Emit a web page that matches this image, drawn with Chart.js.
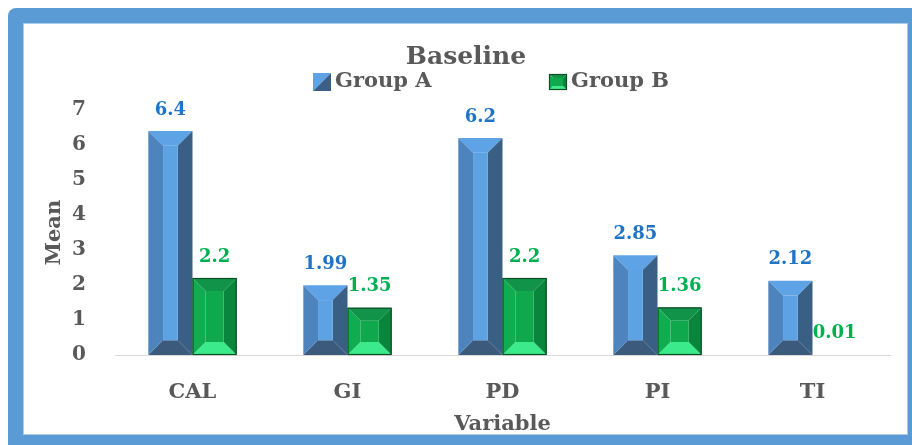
<!DOCTYPE html>
<html>
<head>
<meta charset="utf-8">
<script src="https://cdn.jsdelivr.net/npm/chart.js@4.4.1/dist/chart.umd.min.js"></script>
<style>
  html, body { margin: 0; padding: 0; background: #ffffff; }
  body { width: 912px; height: 445px; position: relative; overflow: hidden; }
  .frame { position: absolute; left: 8px; top: 8px; width: 904px; height: 437px; background: #5b9bd5; border-top-left-radius: 8px; }
  .inner { position: absolute; left: 23px; top: 23px; width: 883px; height: 410px; background: #ffffff; border: 1px solid #a9cbe9; }
  canvas { position: absolute; left: 0; top: 0; }
</style>
</head>
<body>
<div class="frame"></div>
<div class="inner"></div>
<canvas id="chart" width="912" height="445"></canvas>
<script>
// Mean values at baseline, per clinical variable
const categories = ['CAL', 'GI', 'PD', 'PI', 'TI'];
const groupA = [6.4, 1.99, 6.2, 2.85, 2.12];
const groupB = [2.2, 1.35, 2.2, 1.36, 0.01];
const yTicks = [0, 1, 2, 3, 4, 5, 6, 7];
const seriesNames = ['Group A', 'Group B'];

const FONT = '"DejaVu Serif", "Liberation Serif", serif';
const TEXT = '#595959';

const palette = {
  A: { top: '#5ea3e5', left: '#4d84bd', right: '#3a5f85', bottom: '#3b5a7c', face: '#5da2e3', edge: null, label: '#1f74c6' },
  B: { top: '#11934a', left: '#10ad50', right: '#0a853c', bottom: '#3bea8a', face: '#0fa84c', edge: '#0c4f25', label: '#00b050' }
};

function poly(ctx, pts, color) {
  ctx.beginPath();
  ctx.moveTo(pts[0][0], pts[0][1]);
  for (let i = 1; i < pts.length; i++) ctx.lineTo(pts[i][0], pts[i][1]);
  ctx.closePath();
  ctx.fillStyle = color;
  ctx.fill();
}

// Bevelled rectangle: four sloped edges around a flat face
function bevelRect(ctx, x0, y0, x1, y1, d, c) {
  if (y1 - y0 < 0.5) return;
  poly(ctx, [[x0, y0], [x1, y0], [x1 - d, y0 + d], [x0 + d, y0 + d]], c.top);
  poly(ctx, [[x0, y1], [x1, y1], [x1 - d, y1 - d], [x0 + d, y1 - d]], c.bottom);
  poly(ctx, [[x0, y0], [x0 + d, y0 + d], [x0 + d, y1 - d], [x0, y1]], c.left);
  poly(ctx, [[x1, y0], [x1 - d, y0 + d], [x1 - d, y1 - d], [x1, y1]], c.right);
  if (x1 - x0 > 2 * d && y1 - y0 > 2 * d) {
    ctx.fillStyle = c.face;
    ctx.fillRect(x0 + d, y0 + d, x1 - x0 - 2 * d, y1 - y0 - 2 * d);
  }
  if (c.edge) {
    ctx.strokeStyle = c.edge;
    ctx.lineWidth = 1.2;
    ctx.strokeRect(x0 + 0.5, y0 + 0.5, x1 - x0 - 1, y1 - y0 - 1);
  }
}

const bevelBars = {
  id: 'bevelBars',
  afterDatasetsDraw(chart) {
    const ctx = chart.ctx;
    ctx.save();
    chart.data.datasets.forEach((ds, i) => {
      const meta = chart.getDatasetMeta(i);
      const c = i === 0 ? palette.A : palette.B;
      meta.data.forEach((bar, j) => {
        const p = bar.getProps(['x', 'y', 'base', 'width'], true);
        const x0 = p.x - p.width / 2, x1 = p.x + p.width / 2;
        const y0 = Math.min(p.y, p.base), y1 = Math.max(p.y, p.base);
        const h = y1 - y0;
        const d = i === 0 ? Math.min(15, p.width / 3, h / 3) : Math.min(13, p.width / 3, h / 2.4);
        bevelRect(ctx, x0, y0, x1, y1, d, c);
        // value label above the bar
        ctx.font = 'bold 18px ' + FONT;
        ctx.fillStyle = c.label;
        ctx.textAlign = 'center';
        ctx.textBaseline = 'middle';
        ctx.fillText(String(ds.data[j]), p.x, y0 - 21);
      });
    });
    ctx.restore();
  }
};

const bevelLegend = {
  id: 'bevelLegend',
  afterDraw(chart) {
    const ctx = chart.ctx;
    ctx.save();
    const y = 82, s = 18;
    const items = [
      { x: 313, name: seriesNames[0], key: 'A' },
      { x: 549, name: seriesNames[1], key: 'B' }
    ];
    items.forEach(it => {
      const top = y - s / 2;
      if (it.key === 'A') {
        poly(ctx, [[it.x, top], [it.x + s, top], [it.x, top + s]], '#5ea3e5');
        poly(ctx, [[it.x + s, top], [it.x + s, top + s], [it.x, top + s]], '#3b5f86');
      } else {
        bevelRect(ctx, it.x, top + 1, it.x + s, top + s - 1, 4, palette.B);
      }
      ctx.font = 'bold 21px ' + FONT;
      ctx.fillStyle = TEXT;
      ctx.textAlign = 'left';
      ctx.textBaseline = 'middle';
      ctx.fillText(it.name, it.x + s + 4, y);
    });
    ctx.restore();
  }
};

new Chart(document.getElementById('chart'), {
  type: 'bar',
  data: {
    labels: categories,
    datasets: [
      { label: seriesNames[0], data: groupA, backgroundColor: 'rgba(0,0,0,0)', categoryPercentage: 0.57, barPercentage: 1.0 },
      { label: seriesNames[1], data: groupB, backgroundColor: 'rgba(0,0,0,0)', categoryPercentage: 0.57, barPercentage: 1.0 }
    ]
  },
  options: {
    responsive: false,
    animation: false,
    layout: { padding: { left: 42, right: 22, top: 25, bottom: 8 } },
    plugins: {
      legend: { display: false },
      tooltip: { enabled: false },
      title: {
        display: true,
        text: 'Baseline',
        color: TEXT,
        font: { family: FONT, size: 25, weight: 'bold' },
        padding: { top: 17, bottom: 38 }
      }
    },
    scales: {
      x: {
        grid: { display: false, drawTicks: false },
        border: { display: true, color: '#d9d9d9', width: 1 },
        ticks: { color: TEXT, font: { family: FONT, size: 21, weight: 'bold' }, padding: 25 },
        title: { display: true, text: 'Variable', color: TEXT, font: { family: FONT, size: 21, weight: 'bold' }, padding: { top: 8, bottom: 0 } },
        afterFit(scale) { scale.height = 82; }
      },
      y: {
        min: 0,
        max: 7,
        afterBuildTicks(scale) { scale.ticks = yTicks.map(v => ({ value: v })); },
        grid: { display: false, drawTicks: false },
        border: { display: false },
        ticks: { color: TEXT, font: { family: FONT, size: 20, weight: 'bold' }, padding: 29 },
        title: { display: true, text: 'Mean', color: TEXT, font: { family: FONT, size: 21, weight: 'bold' }, padding: { top: 0, bottom: 0 } },
        afterFit(scale) { scale.width = 73; }
      }
    }
  },
  plugins: [bevelBars, bevelLegend]
});
</script>
</body>
</html>
